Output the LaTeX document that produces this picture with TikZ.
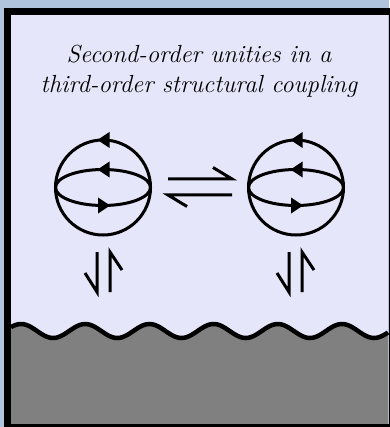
\documentclass[tikz,border=0pt]{standalone}
\definecolor{bgblue}{HTML}{B0C4DE}
\definecolor{lav}{HTML}{E6E6FA}
\definecolor{seagray}{HTML}{808080}
\begin{document}
\begin{tikzpicture}[x=1pt,y=-1pt,
  stroke/.style={line width=3pt,black},
  harp/.style={line width=3pt,black,line cap=butt,line join=miter},
  tip/.style={fill=black},
  title/.style={font=\fontsize{24.7}{30}\selectfont\itshape,anchor=base,inner sep=0pt},
  unity/.pic={
    \draw[stroke] (0,0) circle[radius=47.5];
    \draw[stroke] (0,0) ellipse[x radius=47.5,y radius=18];
    \fill[tip] (-5.5,-47.5) -- (6.5,-55.5) -- (6.5,-39.5) -- cycle;
    \fill[tip] (-5.5,-18) -- (6.5,-26) -- (6.5,-10) -- cycle;
    \fill[tip] (7,18) -- (-5,10) -- (-5,26) -- cycle;
  }]
\useasboundingbox (0,0) rectangle (389,427);
\fill[bgblue] (0,0) rectangle (389,427);
\fill[lav] (11,15) rectangle (388,424);
% sea
\fill[seagray] (11,424) -- plot[domain=11:388,samples=160,smooth] (\x,{331-7*cos(5.6075*(\x-21))}) -- (388,424) -- cycle;
\draw[line width=4.5pt] plot[domain=11:388,samples=160,smooth] (\x,{331-7*cos(5.6075*(\x-21))});
% frame
\draw[line width=7pt] (7.5,12) rectangle (392,427.5);
% title
\node[title] (t1) at (199,63) {Second-order unities in a};
\node[title] (t2) at (199,93) {third-order structural coupling};
% unities
\pic (u1) at (103,187.5) {unity};
\pic (u2) at (296,187.5) {unity};
% horizontal equilibrium harpoons
\coordinate (hl1) at (168,179); \coordinate (hr1) at (232,179); \coordinate (hb1) at (213,167.5);
\coordinate (hl2) at (168,195); \coordinate (hr2) at (232,195); \coordinate (hb2) at (187,206.5);
\draw[harp] (hl1) -- (hr1) -- (hb1);
\draw[harp] (hr2) -- (hl2) -- (hb2);
% vertical harpoons, left
\coordinate (a1t) at (97,252); \coordinate (a1b) at (97,292); \coordinate (a1x) at (85,273);
\coordinate (b1t) at (110,252); \coordinate (b1b) at (110,292); \coordinate (b1x) at (122,270);
\draw[harp] (a1t) -- (a1b) -- (a1x);
\draw[harp] (b1b) -- (b1t) -- (b1x);
% vertical harpoons, right
\coordinate (a2t) at (289,252); \coordinate (a2b) at (289,292); \coordinate (a2x) at (277,273);
\coordinate (b2t) at (302,252); \coordinate (b2b) at (302,292); \coordinate (b2x) at (314,270);
\draw[harp] (a2t) -- (a2b) -- (a2x);
\draw[harp] (b2b) -- (b2t) -- (b2x);
\end{tikzpicture}
\end{document}
